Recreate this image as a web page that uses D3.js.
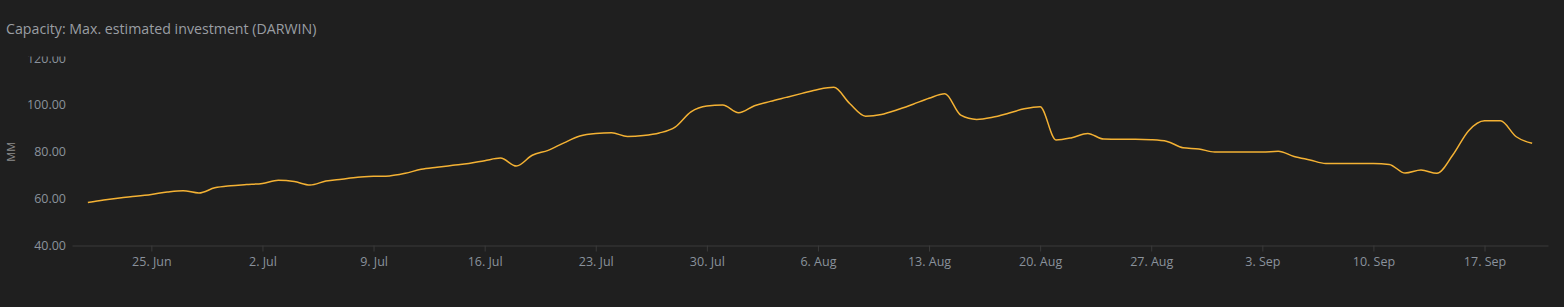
<!DOCTYPE html>
<html>
<head>
<meta charset="utf-8">
<script src="https://cdnjs.cloudflare.com/ajax/libs/d3/7.8.5/d3.min.js"></script>
<style>
    html, body { margin: 0; padding: 0; background: #1f1f1f; }
    body { width: 1564px; height: 307px; overflow: hidden; }
    text { font-family: "Open Sans", sans-serif; }
</style>
</head>
<body>
<div id="chart"></div>
<script>
// daily values, starting 21 Jun 2018
var startDate = "2018-06-21";
var values = [
    58.3, 59.4, 60.3, 61.0, 61.8, 62.8, 63.4, 62.4, 64.6, 65.5,   // 21 Jun - 30 Jun
    66.0, 66.5, 67.8, 67.3, 65.8, 67.5, 68.3, 69.1, 69.5, 69.7,   // 1 Jul - 10 Jul
    70.8, 72.5, 73.4, 74.2, 75.0, 76.2, 77.3, 73.9, 78.5, 80.6,   // 11 Jul - 20 Jul
    83.8, 86.7, 87.8, 88.1, 86.5, 86.9, 88.0, 90.5, 97.0, 99.5,   // 21 Jul - 30 Jul
    99.9, 96.6, 99.6, 101.5, 103.2, 104.9, 106.6, 107.5, 100.6, 95.2, // 31 Jul - 9 Aug
    95.9, 97.9, 100.3, 102.8, 104.7, 95.6, 93.8, 94.7, 96.4, 98.3, // 10 Aug - 19 Aug
    99.2, 85.0, 86.0, 87.8, 85.4, 85.3, 85.3, 85.1, 84.4, 81.7,   // 20 Aug - 29 Aug
    81.2, 79.9, 79.9, 79.9, 79.9, 80.2, 78.0, 76.5, 75.0, 75.0,   // 30 Aug - 8 Sep
    75.0, 75.0, 74.6, 70.9, 72.2, 70.8, 78.6, 89.0, 93.2, 93.2,   // 9 Sep - 18 Sep
    86.4, 83.6                                                    // 19 Sep - 20 Sep
];

var xDomain = ["2018-06-20", "2018-09-21"];
var xTicks = ["2018-06-25", "2018-07-02", "2018-07-09", "2018-07-16", "2018-07-23",
    "2018-07-30", "2018-08-06", "2018-08-13", "2018-08-20", "2018-08-27",
    "2018-09-03", "2018-09-10", "2018-09-17"];
var yTicks = [40, 60, 80, 100, 120];

var title = "Capacity: Max. estimated investment (DARWIN)";
var yLabel = "MM";

var parseDate = d3.timeParse("%Y-%m-%d");

var svg = d3.select("#chart").append("svg")
    .attr("width", 1564)
    .attr("height", 307);

svg.append("rect")
    .attr("width", 1564)
    .attr("height", 307)
    .attr("fill", "#1f1f1f");

var margin = {top: 58, right: 16, bottom: 61.5, left: 72},
    width = 1564 - margin.left - margin.right,
    height = 307 - margin.top - margin.bottom;

var g = svg.append("g").attr("transform", "translate(" + margin.left + "," + margin.top + ")");

var start = parseDate(startDate);
var data = values.map(function (v, i) {
    return {date: d3.timeDay.offset(start, i), value: v};
});

var x = d3.scaleTime()
    .domain(xDomain.map(parseDate))
    .range([0, width]);

var y = d3.scaleLinear()
    .domain([d3.min(yTicks), d3.max(yTicks)])
    .range([height, 0]);

// x axis
var xAxis = g.append("g")
    .attr("transform", "translate(0," + height + ")")
    .call(d3.axisBottom(x)
        .tickValues(xTicks.map(parseDate))
        .tickSize(6)
        .tickSizeOuter(0)
        .tickFormat(d3.timeFormat("%-d. %b")));

xAxis.select(".domain").attr("stroke", "#3a3a3a");
xAxis.selectAll(".tick line").attr("stroke", "#3a3a3a").attr("stroke-width", 1);
xAxis.selectAll(".tick text")
    .attr("fill", "#8a929c")
    .attr("dy", "0.71em")
    .attr("y", 12)
    .style("font-size", "12.5px");

// y axis, top label is cut off under the title area
g.append("clipPath")
    .attr("id", "yclip")
    .append("rect")
    .attr("x", -margin.left)
    .attr("y", 56.5 - margin.top)
    .attr("width", margin.left)
    .attr("height", 300);

var yAxis = g.append("g")
    .attr("clip-path", "url(#yclip)")
    .call(d3.axisLeft(y)
        .tickValues(yTicks)
        .tickSize(0)
        .tickFormat(d3.format(".2f")));

yAxis.select(".domain").remove();
yAxis.selectAll(".tick text")
    .attr("fill", "#8a929c")
    .attr("x", -6)
    .style("font-size", "12.5px");

g.append("text")
    .attr("transform", "rotate(-90)")
    .attr("x", -y(80))
    .attr("y", -61)
    .attr("dy", "0.35em")
    .attr("text-anchor", "middle")
    .attr("fill", "#8a8a8a")
    .style("font-size", "11px")
    .text(yLabel);

// line
var line = d3.line()
    .x(function (d) { return x(d.date); })
    .y(function (d) { return y(d.value); })
    .curve(d3.curveMonotoneX);

g.append("path")
    .datum(data)
    .attr("fill", "none")
    .attr("stroke", "#f4b234")
    .attr("stroke-width", 1.5)
    .attr("d", line);

svg.append("text")
    .attr("x", 6)
    .attr("y", 34)
    .attr("fill", "#9a9ea3")
    .style("font-size", "14.2px")
    .text(title);
</script>
</body>
</html>
